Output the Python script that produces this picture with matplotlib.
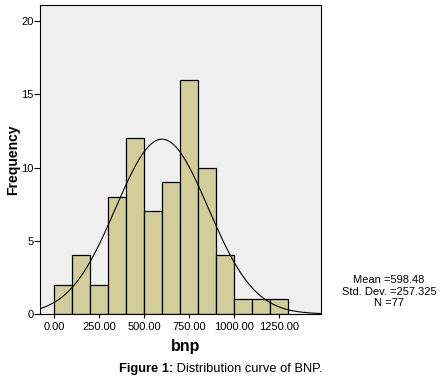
import matplotlib.pyplot as plt
import numpy as np

# bnp histogram data (bin edges of width 100)
bin_left = [0, 100, 200, 300, 400, 500, 600, 700, 800, 900, 1000, 1100, 1200]
counts = [2, 4, 2, 8, 12, 7, 9, 16, 10, 4, 1, 1, 1]
bin_width = 100
mean = 598.48
sd = 257.325
n = 77
xticks = [0, 250, 500, 750, 1000, 1250]
yticks = [0, 5, 10, 15, 20]

plt.rcParams['font.family'] = ['Liberation Sans', 'DejaVu Sans']

fig = plt.figure(figsize=(4.43, 3.84), dpi=100)
ax = fig.add_axes([0.0903, 0.1823, 0.6343, 0.8047])
ax.set_facecolor('#f0f0f0')

ax.bar(bin_left, counts, width=bin_width, align='edge', color='#d3ce99',
       edgecolor='black', linewidth=0.9, zorder=2)

# normal curve scaled to counts
xs = np.linspace(-80, 1483, 400)
ys = n * bin_width / (sd * np.sqrt(2 * np.pi)) * np.exp(-0.5 * ((xs - mean) / sd) ** 2)
ax.plot(xs, ys, color='black', linewidth=0.8, zorder=3)

ax.set_xlim(-80, 1483)
ax.set_ylim(0, 21.1)
ax.set_xticks(xticks)
ax.set_xticklabels(['%.2f' % v for v in xticks])
ax.set_yticks(yticks)
ax.tick_params(axis='both', labelsize=8, width=0.8, direction='out')
ax.tick_params(axis='x', length=3, pad=3)
ax.tick_params(axis='y', length=4.3, pad=0.5)
for s in ax.spines.values():
    s.set_linewidth(0.8)

ax.set_ylabel('Frequency', fontsize=10, fontweight='bold')
ax.yaxis.set_label_coords(-0.097, 0.5)
ax.yaxis.label.set_va('center')
ax.set_xlabel('bnp', fontsize=11.5, fontweight='bold')
ax.xaxis.set_label_coords(0.52, -0.106)
ax.xaxis.label.set_va('center')

fig.text(0.878, 0.24, 'Mean =598.48\nStd. Dev. =257.325\nN =77',
         fontsize=8, ha='center', va='center', linespacing=1.2)

fig.text(0.391, 0.039, 'Figure 1:', fontsize=9.3, fontweight='bold', ha='right', va='center')
fig.text(0.391, 0.039, ' Distribution curve of BNP.', fontsize=9.3, ha='left', va='center')

fig.savefig('out.png', dpi=100)
